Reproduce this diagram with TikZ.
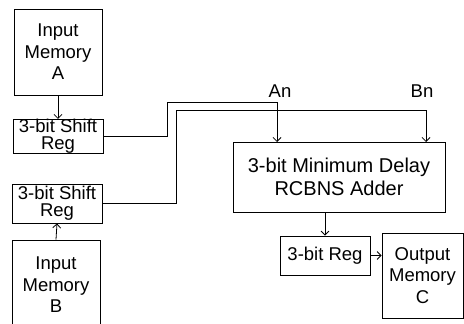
\documentclass[tikz,border=0pt]{standalone}
\usepackage{fontspec}
\setmainfont{Liberation Sans}
\usepackage{tikz}
\usetikzlibrary{arrows.meta}
\def\boxfont{\fontsize{18.5}{21.5}\selectfont}
\def\regfont{\fontsize{18.5}{17}\selectfont}

\begin{document}
\begin{tikzpicture}[x=1pt,y=-1pt,line width=0.8pt,>={Straight Barb[length=4pt,width=8pt]}]
                \tikzstyle{block}=[draw,rectangle,inner sep=0pt,align=center,font=\boxfont]
                \tikzstyle{memory}=[block,minimum width=88pt,minimum height=86pt]
                \tikzstyle{shift reg}=[block,minimum width=90pt,font=\regfont]
                \tikzstyle{annot}=[font=\boxfont]

                \useasboundingbox (0,0) rectangle (464,324);

                % Draw the input memories and their shift registers
                \node[memory] (memA) at (58,52) {Input\\Memory\\A};
                \node[shift reg,minimum height=31pt] (srA) at (58,136.5) {3-bit Shift\\Reg};
                \node[shift reg,minimum height=39pt] (srB) at (57,203.5) {3-bit Shift\\Reg};
                \node[memory,minimum height=90pt] (memB) at (56,285) {Input\\Memory\\B};

                % Draw the adder, the output register and the output memory
                \node[block,minimum width=212pt,minimum height=70pt,font=\fontsize{20}{23}\selectfont] (adder) at (339,177) {3-bit Minimum Delay\\RCBNS Adder};
                \node[block,minimum width=90pt,minimum height=39pt] (reg) at (325,255.5) {3-bit Reg};
                \node[memory,minimum width=81pt,minimum height=85pt] (memC) at (422.5,275.5) {Output\\Memory\\C};

                % Annotate the adder inputs
                \node[annot] (An) at (280,91) {An};
                \node[annot] (Bn) at (422,91) {Bn};
                \coordinate (An in) at (277,142);
                \coordinate (Bn in) at (426,142);

                % Connect the memories to the shift registers
                \draw[->] (memA.south) -- (srA.north);
                \draw[->] (memB.north) -- (srB.south);

                % Route the shift register outputs to the adder
                \draw[->] (srA.east) -| (167,102) -| (An in);
                \draw[->] (srB.east) -| (176,110) -| (Bn in);

                % Adder to register to output memory
                \draw[->] (reg.north |- adder.south) -- (reg.north);
                \draw[->] (reg.east) -- (reg.east -| memC.west);
            \end{tikzpicture}
\end{document}
